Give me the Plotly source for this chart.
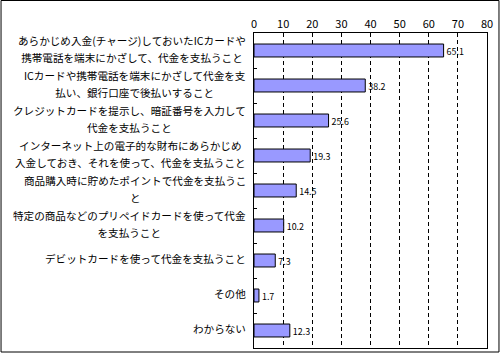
import plotly.graph_objects as go

categories = [
    "あらかじめ入金(チャージ)しておいたICカードや<br>携帯電話を端末にかざして、代金を支払うこと",
    "ICカードや携帯電話を端末にかざして代金を支<br>払い、銀行口座で後払いすること",
    "クレジットカードを提示し、暗証番号を入力して<br>代金を支払うこと",
    "インターネット上の電子的な財布にあらかじめ<br>入金しておき、それを使って、代金を支払うこと",
    "商品購入時に貯めたポイントで代金を支払うこ<br>と",
    "特定の商品などのプリペイドカードを使って代金<br>を支払うこと",
    "デビットカードを使って代金を支払うこと",
    "その他",
    "わからない",
]
values = [65.1, 38.2, 25.6, 19.3, 14.5, 10.2, 7.3, 1.7, 12.3]
x_ticks = [0, 10, 20, 30, 40, 50, 60, 70, 80]

FONT = "Noto Sans CJK JP"
W, H = 500, 353
ML, MR, MT, MB = 254, 12.5, 33, 5
pw = W - ML - MR
ph = H - MT - MB

cat_ids = list(range(len(categories)))

fig = go.Figure()
fig.add_trace(go.Bar(
    x=values,
    y=cat_ids,
    orientation="h",
    marker=dict(color="#9999FF", line=dict(color="black", width=1)),
    text=[f"{v:.1f}" for v in values],
    textposition="outside",
    textfont=dict(family=FONT, size=11, color="black"),
    cliponaxis=False,
    hoverinfo="skip",
))

annotations = []
for i, lab in enumerate(categories):
    lines = lab.split("<br>")
    txt = "<br>".join(f"<span style='font-size:10.6px'>{ln}</span>" for ln in lines)
    annotations.append(dict(
        x=0, xref="paper", y=i, yref="y",
        text=txt, showarrow=False,
        xanchor="right", yanchor="middle", align="center",
        xshift=-6, yshift=2,
        font=dict(family=FONT, size=13, color="black"),
    ))

def px_x(p):
    return (p - ML) / pw

def px_y(p):
    return (H - MB - p) / ph

shapes = [dict(
    type="rect", xref="paper", yref="paper",
    x0=px_x(0.5), x1=px_x(499.5), y0=px_y(352.0), y1=px_y(0.5),
    line=dict(color="black", width=1), fillcolor="rgba(0,0,0,0)", layer="above",
)]

fig.update_layout(
    width=W, height=H,
    margin=dict(l=ML, r=MR, t=MT, b=MB, pad=0),
    paper_bgcolor="white", plot_bgcolor="white",
    showlegend=False,
    bargap=0.63,
    font=dict(family=FONT, size=11, color="black"),
    annotations=annotations,
    shapes=shapes,
    xaxis=dict(
        range=[0, 80], side="top",
        tickmode="array", tickvals=x_ticks, ticktext=[str(t) for t in x_ticks],
        tickfont=dict(family=FONT, size=11, color="black"),
        showgrid=True, gridcolor="black", gridwidth=1, griddash="4px,3px",
        zeroline=False,
        showline=True, linecolor="black", linewidth=1, mirror=True,
        ticks="", fixedrange=True,
    ),
    yaxis=dict(
        type="category", autorange="reversed",
        tickmode="array", tickvals=cat_ids,
        showticklabels=False,
        tickson="boundaries", ticks="inside", ticklen=3, tickcolor="black",
        showgrid=False, zeroline=False,
        showline=True, linecolor="black", linewidth=1, mirror=True,
        fixedrange=True,
    ),
)

fig.write_html("out.html")
